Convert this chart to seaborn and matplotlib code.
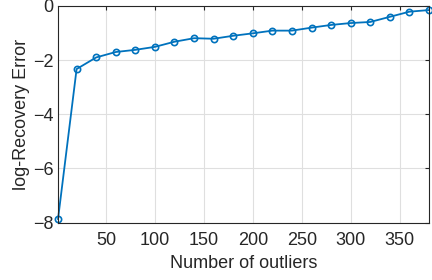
import numpy as np
import pandas as pd
import matplotlib
matplotlib.use("Agg")
import matplotlib.pyplot as plt
import seaborn as sns

# number of outliers vs log recovery error
n_outliers = [1, 20, 40, 60, 80, 100, 120, 140, 160, 180, 200,
              220, 240, 260, 280, 300, 320, 340, 360, 380]
log_err = [-7.88, -2.33, -1.90, -1.70, -1.62, -1.51, -1.32, -1.19, -1.21, -1.10,
           -1.01, -0.91, -0.91, -0.80, -0.70, -0.63, -0.59, -0.40, -0.21, -0.15]
x_ticks = [50, 100, 150, 200, 250, 300, 350]
y_ticks = [-8, -6, -4, -2, 0]

df = pd.DataFrame({"outliers": n_outliers, "err": log_err})

sns.set_theme(style="whitegrid")
plt.rcParams["font.family"] = ["Liberation Sans", "DejaVu Sans"]

fig = plt.figure(figsize=(4.32, 2.8), dpi=100)
ax = fig.add_axes([58 / 432, 1 - 222.5 / 280, (429 - 58) / 432, (222.5 - 6) / 280])

sns.lineplot(data=df, x="outliers", y="err", ax=ax, color="#0072BD", lw=1.3,
             marker="o", markersize=4.5, markerfacecolor="none",
             markeredgecolor="#0072BD", markeredgewidth=1.2, clip_on=False)

ax.set_xlim(1, 380)
ax.set_ylim(-8, 0)
ax.set_xticks(x_ticks)
ax.set_yticks(y_ticks)
fs = 13
ax.set_xlabel("Number of outliers", fontsize=fs, color="#262626", labelpad=4)
ax.set_ylabel("log-Recovery Error", fontsize=fs, color="#262626", labelpad=2)
ax.tick_params(axis="both", labelsize=fs, labelcolor="#262626", direction="in",
               length=3, width=0.8, color="#262626", top=True, right=True)
ax.tick_params(axis="x", pad=7)
ax.tick_params(axis="y", pad=3)
ax.grid(True, color="#dfdfdf", lw=0.8)
ax.set_facecolor("white")
for s in ax.spines.values():
    s.set_visible(True)
    s.set_color("#262626")
    s.set_linewidth(0.8)

fig.savefig("out.png", dpi=100)
